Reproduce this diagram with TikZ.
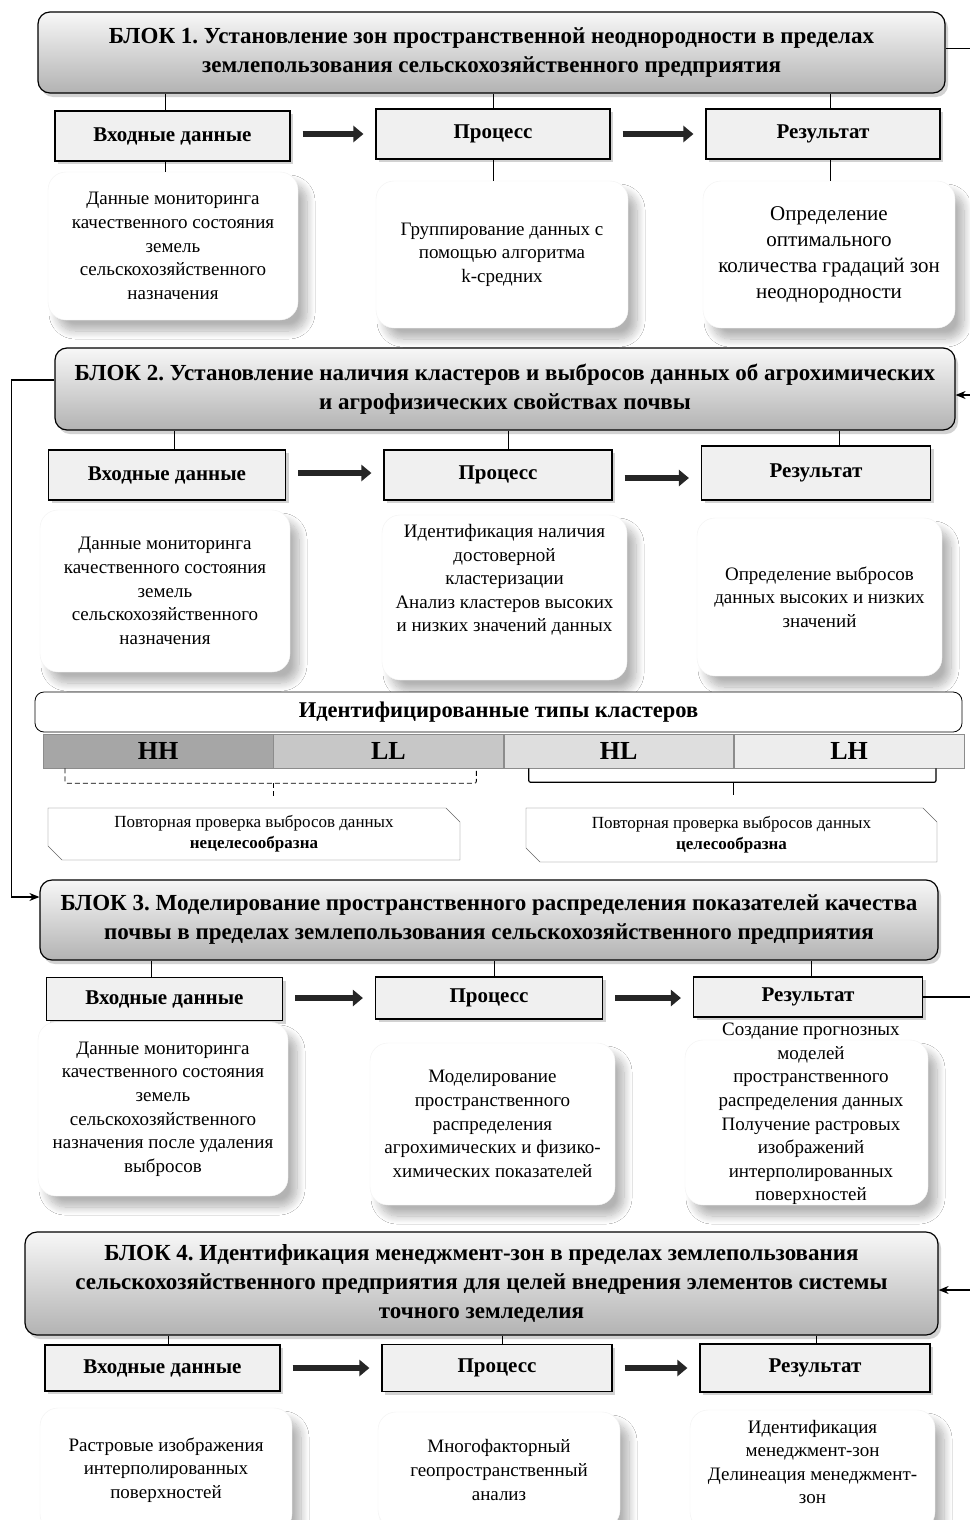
\documentclass[tikz,border=0pt]{standalone}
\usepackage{fontspec}
\setmainfont{Liberation Serif}
\usetikzlibrary{positioning,shadows,shadows.blur,arrows.meta,shapes.misc}
\frenchspacing

\begin{document}
\begin{tikzpicture}[x=1pt,y=-1pt,
	blockhdr/.style={
		draw, line width=1.2pt, rounded corners=12pt,
		top color=black!3, bottom color=black!30,
		drop shadow={opacity=0.35, shadow xshift=3pt, shadow yshift=-4pt},
		align=center, inner sep=0pt,
		font=\bfseries\fontsize{23}{29}\selectfont
	},
	lbl/.style={
		draw, line width=1.2pt, fill=black!6, inner sep=0pt,
		drop shadow={opacity=0.35, shadow xshift=3pt, shadow yshift=-3pt},
		font=\bfseries\fontsize{21}{24}\selectfont
	},
	cbox/.style={
		fill=white, draw=black!5, rounded corners=18pt, inner sep=0pt,
		blur shadow={shadow xshift=9pt, shadow yshift=-11pt, shadow blur radius=8pt,
			shadow blur steps=12, shadow opacity=30},
		align=center, font=\fontsize{19}{23.6}\selectfont
	},
	ctext/.style={align=center, inner sep=0pt, font=\fontsize{19}{23.6}\selectfont},
	fatarrow/.style={line width=5.5pt, black!85, -{Triangle[length=10pt,width=16pt]},
		shorten <=12pt, shorten >=12pt},
	link/.style={line width=1pt},
	linkarr/.style={line width=1.2pt, -{Stealth[length=10pt,width=8pt]}},
	cell/.style={draw=black!45, line width=0.6pt, minimum width=229.75pt, minimum height=34pt,
		inner sep=0pt, font=\bfseries\fontsize{26}{28}\selectfont},
	note/.style={chamfered rectangle, chamfered rectangle corners={north east,south west},
		chamfered rectangle xsep=7pt, chamfered rectangle ysep=7pt,
		draw=black!60, fill=white, inner sep=0pt, align=center,
		font=\fontsize{17}{21}\selectfont}
	]

	\path[fill=white, use as bounding box] (0,0) rectangle (969,1520);

	% БЛОК 1
	\node[blockhdr, minimum width=907pt, minimum height=81pt] (b1) at (491.5,52.5)
		{БЛОК 1. Установление зон пространственной неоднородности в пределах\\
		 землепользования сельскохозяйственного предприятия};
	\node[lbl, minimum width=235pt, minimum height=50pt] (in1) at (172.5,136) {Входные данные};
	\node[lbl, minimum width=234pt, minimum height=50pt] (pr1) at (493,134) {Процесс};
	\node[lbl, minimum width=234pt, minimum height=50pt] (res1) at (823,134) {Результат};
	\node[cbox, minimum width=250pt, minimum height=148pt] (c11) at (173,246)
		{Данные мониторинга\\ качественного состояния\\ земель\\ сельскохозяйственного\\ назначения};
	\node[cbox, minimum width=252pt, minimum height=147pt] (c12) at (502,254.5)
		{Группирование данных с\\ помощью алгоритма\\ k-средних};
	\node[cbox, minimum width=252pt, minimum height=147pt, font=\fontsize{21}{26}\selectfont] (c13) at (829,254.5)
		{Определение\\ оптимального\\ количества градаций зон\\ неоднородности};

	\draw[link] ([xshift=-7pt]in1.north) -- ([xshift=-7pt]in1.north |- b1.south);
	\draw[link] (pr1.north) -- (pr1.north |- b1.south);
	\draw[link] ([xshift=7pt]res1.north) -- ([xshift=7pt]res1.north |- b1.south);
	\draw[link] ([xshift=-7pt]in1.south) -- ([xshift=-7pt]in1.south |- c11.north);
	\draw[link] (pr1.south) -- (pr1.south |- c12.north);
	\draw[link] ([xshift=7pt]res1.south) -- ([xshift=7pt]res1.south |- c13.north);
	\draw[fatarrow] (in1.east |- pr1) -- (pr1.west);
	\draw[fatarrow] (pr1.east) -- (pr1.east -| res1.west);

	% БЛОК 2
	\node[blockhdr, minimum width=900pt, minimum height=82pt] (b2) at (505,389)
		{БЛОК 2. Установление наличия кластеров и выбросов данных об агрохимических\\
		 и агрофизических свойствах почвы};
	\node[lbl, minimum width=237pt, minimum height=50pt] (in2) at (167,475) {Входные данные};
	\node[lbl, minimum width=228pt, minimum height=50pt] (pr2) at (498,475) {Процесс};
	\node[lbl, minimum width=229pt, minimum height=54pt] (res2) at (816,473) {Результат};
	\node[cbox, minimum width=250pt, minimum height=162pt] (c21) at (165,591)
		{Данные мониторинга\\ качественного состояния\\ земель\\ сельскохозяйственного\\ назначения};
	\node[cbox, minimum width=245pt, minimum height=165pt] (c22) at (504.5,597.5) {};
	\node[ctext] (t22) at (504.5,580)
		{Идентификация наличия\\ достоверной\\ кластеризации\\ Анализ кластеров высоких\\ и низких значений данных};
	\node[cbox, minimum width=245pt, minimum height=158pt] (c23) at (819.5,597)
		{Определение выбросов\\ данных высоких и низких\\ значений};

	\draw[link] ([xshift=7pt]in2.north) -- ([xshift=7pt]in2.north |- b2.south);
	\draw[link] ([xshift=10pt]pr2.north) -- ([xshift=10pt]pr2.north |- b2.south);
	\draw[link] ([xshift=23pt]res2.north) -- ([xshift=23pt]res2.north |- b2.south);
	\draw[fatarrow] ([yshift=2pt]in2.east) -- ([yshift=2pt]in2.east -| pr2.west);
	\draw[fatarrow] ([yshift=-3pt]pr2.east) -- ([yshift=-3pt]pr2.east -| res2.west);

	% типы кластеров
	\node[draw, line width=0.8pt, rounded corners=9pt, fill=white, minimum width=927pt, minimum height=40pt,
		inner sep=0pt, font=\bfseries\fontsize{22.5}{24}\selectfont] (ctitle) at (498.5,712)
		{Идентифицированные типы кластеров};
	\node[cell, fill=black!35] (hh) at (158,751) {HH};
	\node[cell, fill=black!22, right=0pt of hh] (ll) {LL};
	\node[cell, fill=black!13, right=0pt of ll] (hl) {HL};
	\node[cell, fill=black!7, right=0pt of hl] (lh) {LH};

	\draw[link, line width=0.8pt, dash pattern=on 5pt off 3pt, rounded corners=2pt]
		([xshift=-93pt]hh.south) -- ++(0,15) -| ([xshift=88pt]ll.south);
	\draw[link, line width=0.8pt, dash pattern=on 5pt off 3pt] ([yshift=-15pt]hh.south east) -- ++(0,15);
	\draw[link, line width=1.2pt, rounded corners=2pt]
		([xshift=-90pt]hl.south) -- ++(0,14) -| ([xshift=87pt]lh.south);
	\draw[link, line width=1.2pt] ([yshift=-14pt]hl.south east) -- ++(0,13);

	\node[note, minimum width=412pt, minimum height=52pt] (note1) at (254,834)
		{Повторная проверка выбросов данных\\ \textbf{нецелесообразна}};
	\node[note, minimum width=411pt, minimum height=54pt] (note2) at (731.5,835)
		{Повторная проверка выбросов данных\\ \textbf{целесообразна}};

	% БЛОК 3
	\node[blockhdr, minimum width=898pt, minimum height=80pt] (b3) at (489,920)
		{БЛОК 3. Моделирование пространственного распределения показателей качества\\
		 почвы в пределах землепользования сельскохозяйственного предприятия};
	\node[lbl, minimum width=236pt, minimum height=43pt] (in3) at (164.5,999) {Входные данные};
	\node[lbl, minimum width=227pt, minimum height=42pt] (pr3) at (489,998) {Процесс};
	\node[lbl, minimum width=229pt, minimum height=40pt] (res3) at (808,997) {Результат};
	\node[cbox, minimum width=250pt, minimum height=174pt] (c31) at (163,1109)
		{Данные мониторинга\\ качественного состояния\\ земель\\ сельскохозяйственного\\ назначения после удаления\\ выбросов};
	\node[cbox, minimum width=245pt, minimum height=162pt] (c32) at (492.5,1124)
		{Моделирование\\ пространственного\\ распределения\\ агрохимических и физико-\\ химических показателей};
	\node[cbox, minimum width=243pt, minimum height=165pt] (c33) at (806.5,1122.5) {};
	\node[ctext] (t33) at (811,1114)
		{Создание прогнозных\\ моделей\\ пространственного\\ распределения данных\\ Получение растровых\\ изображений\\ интерполированных\\ поверхностей};

	\draw[link] ([xshift=-13.5pt]in3.north) -- ([xshift=-13.5pt]in3.north |- b3.south);
	\draw[link] ([xshift=5pt]pr3.north) -- ([xshift=5pt]pr3.north |- b3.south);
	\draw[link] ([xshift=3.5pt]res3.north) -- ([xshift=3.5pt]res3.north |- b3.south);
	\draw[fatarrow] (pr3.west -| in3.east) -- (pr3.west);
	\draw[fatarrow] (pr3.east) -- (pr3.east -| res3.west);

	% БЛОК 4
	\node[blockhdr, minimum width=913pt, minimum height=103pt] (b4) at (481.5,1283.5)
		{БЛОК 4. Идентификация менеджмент-зон в пределах землепользования\\
		 сельскохозяйственного предприятия для целей внедрения элементов системы\\
		 точного земледелия};
	\node[lbl, minimum width=235pt, minimum height=46pt] (in4) at (162.5,1368) {Входные данные};
	\node[lbl, minimum width=230pt, minimum height=47pt] (pr4) at (497,1368) {Процесс};
	\node[lbl, minimum width=230pt, minimum height=48pt] (res4) at (815,1368) {Результат};
	\node[cbox, minimum width=252pt, minimum height=124pt] (c41) at (166,1470)
		{Растровые изображения\\ интерполированных\\ поверхностей};
	\node[cbox, minimum width=242pt, minimum height=116pt] (c42) at (499,1470)
		{Многофакторный\\ геопространственный\\ анализ};
	\node[cbox, minimum width=245pt, minimum height=120pt] (c43) at (812.5,1470) {};
	\node[ctext] (t43) at (812.5,1462)
		{Идентификация\\ менеджмент-зон\\ Делинеация менеджмент-\\ зон};

	\draw[link] ([xshift=5.5pt]in4.north) -- ([xshift=5.5pt]in4.north |- b4.south);
	\draw[link] ([xshift=5pt]pr4.north) -- ([xshift=5pt]pr4.north |- b4.south);
	\draw[link] ([xshift=1pt]res4.north) -- ([xshift=1pt]res4.north |- b4.south);
	\draw[fatarrow] (in4.east) -- (pr4.west);
	\draw[fatarrow] (pr4.east) -- (res4.west);

	% обратные связи
	\draw[linkarr] ([yshift=4pt]b1.east) -- ++(30,0) |- ([yshift=-6pt]b2.east);
	\draw[linkarr] ([yshift=9pt]b2.west) -- ++(-43,0) |- ([yshift=23pt]b3.west);
	\draw[linkarr] (res3.east) -- ++(60,0) |- ([yshift=-6.5pt]b4.east);

\end{tikzpicture}
\end{document}
